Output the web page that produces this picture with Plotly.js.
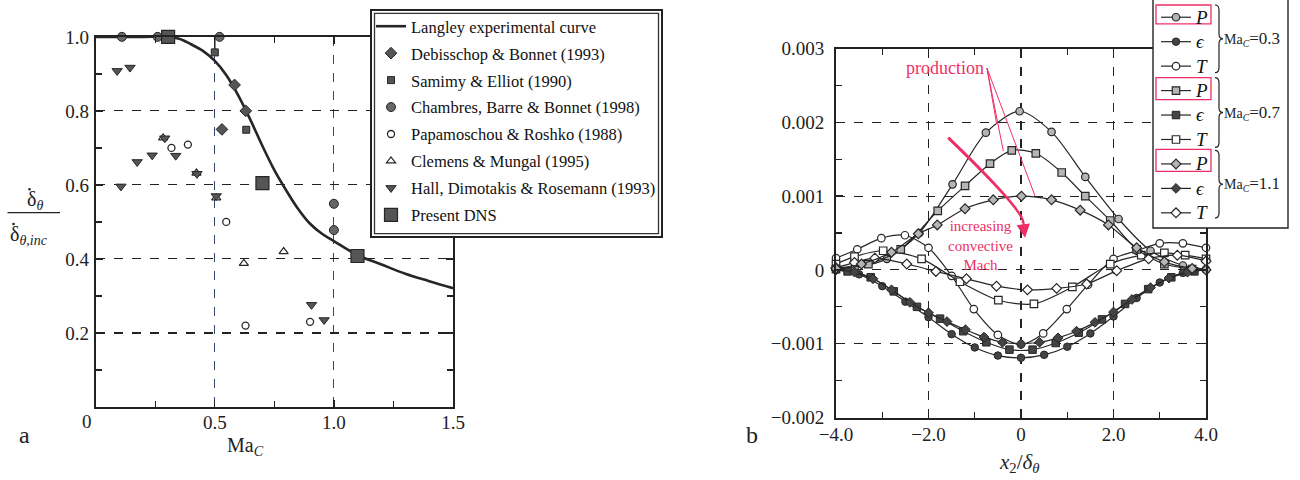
<!DOCTYPE html>
<html><head><meta charset="utf-8">
<script src="https://cdn.plot.ly/plotly-3.0.1.min.js"></script>
<style>body{margin:0;background:#fff}#g{width:1300px;height:480px}</style>
</head><body><div id="g"></div>
<script>
// ---------- Panel a data ----------
const langleyX = [0, 0.1, 0.2, 0.3, 0.35, 0.4, 0.45, 0.5, 0.55, 0.6, 0.65, 0.7, 0.75, 0.8, 0.85, 0.9, 0.95, 1.0, 1.1, 1.2, 1.3, 1.4, 1.5];
const langleyY = [1.0, 1.0, 1.0, 1.0, 0.995, 0.98, 0.962, 0.935, 0.895, 0.84, 0.775, 0.705, 0.64, 0.585, 0.535, 0.495, 0.468, 0.448, 0.41, 0.385, 0.36, 0.34, 0.321];
const debX = [0.583, 0.63, 0.53];
const debY = [0.87, 0.80, 0.75];
const samX = [0.5, 0.632];
const samY = [0.958, 0.749];
const chaX = [0.11, 0.26, 0.52, 1.0, 1.0];
const chaY = [1.0, 1.0, 1.0, 0.549, 0.478];
const papX = [0.318, 0.387, 0.548, 0.629, 0.90];
const papY = [0.70, 0.709, 0.50, 0.22, 0.23];
const cleX = [0.283, 0.423, 0.506, 0.622, 0.789];
const cleY = [0.727, 0.632, 0.565, 0.388, 0.42];
const hallX = [0.09, 0.144, 0.106, 0.174, 0.237, 0.29, 0.336, 0.425, 0.506, 0.906, 0.959];
const hallY = [0.908, 0.917, 0.596, 0.662, 0.68, 0.726, 0.679, 0.63, 0.57, 0.276, 0.235];
const dnsX = [0.304, 0.70, 1.099];
const dnsY = [1.0, 0.605, 0.408];
const aNames = ["Langley experimental curve", "Debisschop &amp; Bonnet (1993)", "Samimy &amp; Elliot (1990)",
  "Chambres, Barre &amp; Bonnet (1998)", "Papamoschou &amp; Roshko (1988)", "Clemens &amp; Mungal (1995)",
  "Hall, Dimotakis &amp; Rosemann (1993)", "Present DNS"];
const aXTicks = [0.5, 1.0, 1.5];
const aXTickText = ["0.5", "1.0", "1.5"];
const aYTicks = [0.2, 0.4, 0.6, 0.8, 1.0];
const aYTickText = ["0.2", "0.4", "0.6", "0.8", "1.0"];

// ---------- Panel b data ----------
const p03X = [-4, -3.6, -2.9, -2.2, -1.48, -0.76, -0.03, 0.66, 1.39, 2.11, 2.8, 3.5, 4];
const p03Y = [0.00001, 0.00003, 0.00015, 0.0005, 0.00116, 0.00186, 0.00215, 0.00187, 0.00126, 0.00069, 0.00026, 0.00006, 0.00001];
const e03X = [-4, -3.5, -3, -2.5, -2, -1.5, -1, -0.5, 0, 0.5, 1, 1.5, 2, 2.5, 3, 3.5, 4];
const e03Y = [0, -0.00006, -0.00022, -0.00043, -0.00064, -0.00087, -0.00105, -0.00116, -0.00119, -0.00115, -0.00104, -0.00086, -0.00063, -0.00038, -0.00017, -0.00004, 0];
const t03X = [-4, -3.54, -3.02, -2.51, -2.0, -1.5, -1.02, -0.5, 0, 0.48, 0.99, 1.45, 2.0, 2.5, 3.0, 3.5, 4.0];
const t03Y = [0.00016, 0.00028, 0.00043, 0.00047, 0.0003, -0.00008, -0.00053, -0.00088, -0.00101, -0.00086, -0.00053, -0.0002, 0.00015, 0.00026, 0.00036, 0.00036, 0.0003];
const p07X = [-4, -3.3, -2.6, -1.8, -1.21, -0.67, -0.2, 0.32, 0.88, 1.39, 1.93, 2.5, 3.1, 3.7];
const p07Y = [0.00001, 0.00008, 0.00028, 0.0008, 0.00114, 0.00144, 0.00162, 0.00158, 0.00132, 0.001, 0.00067, 0.00028, 0.00008, 0.00001];
const e07X = [-3.75, -3.25, -2.75, -2.25, -1.75, -1.25, -0.75, -0.25, 0.25, 0.75, 1.25, 1.75, 2.25, 2.75, 3.25, 3.75];
const e07Y = [-0.00002, -0.0001, -0.00029, -0.0005, -0.00066, -0.00083, -0.00098, -0.00108, -0.00108, -0.00099, -0.00085, -0.00067, -0.00046, -0.00026, -0.0001, -0.00002];
const t07X = [-4, -3.6, -2.98, -2.15, -1.32, -0.49, 0.28, 1.11, 1.93, 2.6, 3.1, 3.55, 4];
const t07Y = [0.00008, 0.00018, 0.00026, 0.00015, -0.00016, -0.00041, -0.00046, -0.00023, 0.00008, 0.0002, 0.00023, 0.0002, 0.00015];
const p11X = [-4, -3.45, -2.8, -2.22, -1.81, -1.21, -0.6, 0.01, 0.66, 1.28, 1.89, 2.5, 3.1, 3.7, 4];
const p11Y = [0.00002, 0.00008, 0.00024, 0.00049, 0.00061, 0.00083, 0.00095, 0.001, 0.00095, 0.00081, 0.00061, 0.0003, 0.00011, 0.00002, 0];
const e11X = [-4, -3.6, -3.2, -2.8, -2.4, -2, -1.6, -1.2, -0.8, -0.4, 0, 0.4, 0.8, 1.2, 1.6, 2, 2.4, 2.8, 3.2, 3.6, 4];
const e11Y = [0, -0.00003, -0.00012, -0.00027, -0.00044, -0.00058, -0.0007, -0.00081, -0.00091, -0.00098, -0.001, -0.00098, -0.00092, -0.00083, -0.00071, -0.00057, -0.0004, -0.00024, -0.00011, -0.00003, 0];
const t11X = [-4, -3.6, -3.16, -2.47, -1.84, -1.18, -0.53, 0.14, 0.77, 1.42, 2.07, 2.76, 3.38, 4];
const t11Y = [0.00003, 0.0001, 0.00016, 0.00008, -0.00002, -0.00012, -0.00022, -0.00027, -0.00025, -0.00019, -0.00001, 0.00015, 0.0002, 0.00012];
const bXTicks = [-4, -2, 0, 2, 4];
const bXTickText = ["\u22124.0", "\u22122.0", "0", "2.0", "4.0"];
const bYTicks = [-0.002, -0.001, 0, 0.001, 0.002, 0.003];
const bYTickText = ["\u22120.002", "\u22120.001", "0", "0.001", "0.002", "0.003"];
const machLabels = ["0.3", "0.7", "1.1"];
const quantityNames = ["P", "\u03f5", "T"];

// ---------- helpers ----------
const W = 1300, H = 480;
const px = x => x / W, py = y => 1 - y / H;
const SERIF = "Liberation Serif, DejaVu Serif, serif";
const INK = "#262626";
const RED = "#ee2f66";

const mk = (sym, size, fill, lw) => ({symbol: sym, size: size, color: fill, line: {color: INK, width: lw}});
const aCommon = (i) => ({xaxis: "x", yaxis: "y", legend: "legend", legendgroup: "a" + i, cliponaxis: false});

const traces = [
  Object.assign(aCommon(0), {x: langleyX, y: langleyY, mode: "lines", name: aNames[0], line: {color: INK, width: 2.6, shape: "spline"}}),
  Object.assign(aCommon(1), {x: debX, y: debY, mode: "markers", name: aNames[1], marker: mk("diamond", 9, "#555", 1)}),
  Object.assign(aCommon(2), {x: samX, y: samY, mode: "markers", name: aNames[2], marker: mk("square", 7, "#555", 1),
    error_y: {type: "data", symmetric: false, array: [0.042, 0], arrayminus: [0, 0], width: 0, thickness: 1.5, color: INK}}),
  Object.assign(aCommon(3), {x: chaX, y: chaY, mode: "markers", name: aNames[3], marker: mk("circle", 9, "#666", 1)}),
  Object.assign(aCommon(4), {x: papX, y: papY, mode: "markers", name: aNames[4], marker: mk("circle", 7, "#fff", 1.3)}),
  Object.assign(aCommon(5), {x: cleX, y: cleY, mode: "markers", name: aNames[5], marker: mk("triangle-up", 8, "#fff", 1.2)}),
  Object.assign(aCommon(6), {x: hallX, y: hallY, mode: "markers", name: aNames[6], marker: mk("triangle-down", 9, "#555", 1)}),
  Object.assign(aCommon(7), {x: dnsX, y: dnsY, mode: "markers", name: aNames[7], marker: mk("square", 13, "#555", 1.2)})
];

const bSets = [
  [p03X, p03Y, e03X, e03Y, t03X, t03Y, "circle"],
  [p07X, p07Y, e07X, e07Y, t07X, t07Y, "square"],
  [p11X, p11Y, e11X, e11Y, t11X, t11Y, "diamond"]
];
const qName = q => "<span style='font-size:19px'><i>" + q + "</i></span>";
bSets.forEach((s, i) => {
  const sym = s[6];
  const common = {mode: "lines+markers", xaxis: "x2", yaxis: "y2", legend: "legend2", line: {color: INK, width: 1.2, shape: "spline", smoothing: 0.8}, cliponaxis: false};
  traces.push(Object.assign({}, common, {x: s[2], y: s[3], name: qName(quantityNames[1]), legendrank: 100 + i * 10 + 2, marker: mk(sym, 7.5, "#444", 1)}));
  traces.push(Object.assign({}, common, {x: s[4], y: s[5], name: qName(quantityNames[2]), legendrank: 100 + i * 10 + 3, marker: mk(sym, 7.5, "#fff", 1.2)}));
  traces.push(Object.assign({}, common, {x: s[0], y: s[1], name: qName(quantityNames[0]), legendrank: 100 + i * 10 + 1, marker: mk(sym, 7.5, "#b5b5b5", 1.2)}));
});

// ---------- axes ----------
const tickFont = {family: SERIF, size: 19, color: "#222"};
const baseAxis = {showline: true, mirror: "ticks", linecolor: "#222", linewidth: 2, ticks: "inside", ticklen: 7, tickwidth: 1.3, tickcolor: "#222",
  tickfont: tickFont, zeroline: false, showgrid: true, griddash: "dash", gridwidth: 1.1};

const layout = {
  width: W, height: H, margin: {l: 0, r: 0, t: 0, b: 0}, paper_bgcolor: "#fff", plot_bgcolor: "#fff",
  font: {family: SERIF, color: "#222"},
  xaxis: Object.assign({}, baseAxis, {domain: [px(95.7), px(453)], range: [0, 1.5], anchor: "y", tickmode: "array", tickvals: aXTicks, ticktext: aXTickText,
    gridcolor: "#34466e", ticklabelstandoff: -3, minor: {tickmode: "linear", tick0: 0, dtick: 0.25, ticks: "inside", ticklen: 6, tickcolor: "#222", showgrid: false}}),
  yaxis: Object.assign({}, baseAxis, {domain: [py(406.7), py(35)], range: [0, 1.0], anchor: "x", tickmode: "array", tickvals: aYTicks, ticktext: aYTickText,
    gridcolor: "#222", ticklabelstandoff: 1, minor: {tickmode: "linear", tick0: 0, dtick: 0.1, ticks: "inside", ticklen: 6, tickcolor: "#222", showgrid: false}}),
  xaxis2: Object.assign({}, baseAxis, {domain: [px(836), px(1206)], range: [-4, 4], anchor: "y2", tickmode: "array", tickvals: bXTicks, ticktext: bXTickText,
    gridcolor: "#222", ticklabelstandoff: -1, minor: {tickmode: "linear", tick0: 0, dtick: 1, ticks: "inside", ticklen: 6, tickcolor: "#222", showgrid: false}}),
  yaxis2: Object.assign({}, baseAxis, {domain: [py(417.3), py(46.7)], range: [-0.002, 0.003], anchor: "x2", tickmode: "array", tickvals: bYTicks, ticktext: bYTickText,
    gridcolor: "#222", ticklabelstandoff: 6, minor: {tickmode: "linear", tick0: 0, dtick: 0.0005, ticks: "inside", ticklen: 6, tickcolor: "#222", showgrid: false}}),
  showlegend: true,
  legend: {x: px(371), y: py(7), xanchor: "left", yanchor: "top", bgcolor: "rgba(0,0,0,0)", borderwidth: 0,
    font: {family: SERIF, size: 16.5, color: "#111"}, tracegroupgap: 2.5, itemwidth: 30, traceorder: "grouped"},
  legend2: {x: px(1156), y: py(-2), xanchor: "left", yanchor: "top", bgcolor: "rgba(0,0,0,0)", borderwidth: 0,
    font: {family: SERIF, size: 16.5, color: "#111"}, tracegroupgap: 0, itemwidth: 30, traceorder: "normal"},
  shapes: [],
  annotations: []
};

const S = layout.shapes, A = layout.annotations;
const PT = (x, y) => px(x).toFixed(5) + "," + py(y).toFixed(5);
// legend frames (double line for panel a)
S.push({type: "rect", xref: "paper", yref: "paper", x0: px(371), x1: px(662), y0: py(236), y1: py(8), line: {color: "#222", width: 2}, fillcolor: "#fff", layer: "above"});
S.push({type: "rect", xref: "paper", yref: "paper", x0: px(374.5), x1: px(658.5), y0: py(232.5), y1: py(11.5), line: {color: "#333", width: 1.3}, layer: "above"});
S.push({type: "rect", xref: "paper", yref: "paper", x0: px(1153), x1: px(1288), y0: py(227), y1: py(-10), line: {color: "#222", width: 1.4}, fillcolor: "#fff", layer: "above"});
// red boxes around P entries
[[3, 22], [76, 98], [148, 170]].forEach(b => S.push({type: "rect", xref: "paper", yref: "paper", x0: px(1156), x1: px(1211), y0: py(b[1]), y1: py(b[0]), line: {color: RED, width: 1.3}, layer: "above"}));
// braces
function brace(xL, yT, yB, w) {
  const xm = xL + w / 2, ym = (yT + yB) / 2, h = 5;
  return "M" + PT(xL, yT) + " Q" + PT(xm, yT) + " " + PT(xm, yT + h) + " L" + PT(xm, ym - h) + " Q" + PT(xm, ym) + " " + PT(xL + w, ym) +
    " Q" + PT(xm, ym) + " " + PT(xm, ym + h) + " L" + PT(xm, yB - h) + " Q" + PT(xm, yB) + " " + PT(xL, yB);
}
[[3, 71], [76, 146], [149, 217]].forEach((b, i) => {
  S.push({type: "path", xref: "paper", yref: "paper", path: brace(1215, b[0], b[1], 8), line: {color: "#222", width: 1.2}, layer: "above"});
  A.push({xref: "paper", yref: "paper", x: px(1222), y: py((b[0] + b[1]) / 2), xanchor: "left", yanchor: "middle", showarrow: false,
    text: "<span style='font-size:14px'>Ma<sub><i>C</i></sub></span>=" + machLabels[i], font: {family: SERIF, size: 17, color: "#222"}});
});
// fraction line and accent dots of the y title
S.push({type: "line", xref: "paper", yref: "paper", x0: px(7.5), x1: px(60), y0: py(211.5), y1: py(211.5), line: {color: "#222", width: 1.3}});
[[29.5, 188], [13.5, 223]].forEach(d => S.push({type: "circle", xref: "paper", yref: "paper", x0: px(d[0] - 1.3), x1: px(d[0] + 1.3), y0: py(d[1] + 1.3), y1: py(d[1] - 1.3), fillcolor: "#222", line: {width: 0}}));
// production lines
const prodStart = [-0.736, 0.002734];
[[-0.526, 0.001977], [-0.383, 0.001612], [0.303, 0.001004]].forEach(e => S.push({type: "line", xref: "x2", yref: "y2", x0: prodStart[0], y0: prodStart[1], x1: e[0], y1: e[1], line: {color: RED, width: 1}}));
// curved arrow
S.push({type: "path", xref: "x2", yref: "y2", path: "M -1.574,0.001792 Q 0.146,0.000753 0.043,0.000626", line: {color: RED, width: 3}});
A.push({xref: "x2", yref: "y2", x: 0.087, y: 0.000436, ax: -2, ay: -15, axref: "pixel", ayref: "pixel", showarrow: true, arrowhead: 2, arrowsize: 0.9, arrowwidth: 3, arrowcolor: RED, text: "", standoff: 0});

// texts
const T = (x, y, text, size, color, xa) => A.push({xref: "paper", yref: "paper", x: px(x), y: py(y), xanchor: xa || "center", yanchor: "middle",
  showarrow: false, text: text, font: {family: SERIF, size: size, color: color || "#222"}});
T(24, 435, "a", 24);
T(752, 435, "b", 24);
T(87, 421, "0", 19);
T(245, 446, "Ma<sub><i>C</i></sub>", 20);
T(24.5, 199, "\u03b4<sub><i>\u03b8</i></sub>", 20, "#222", "left");
T(7.5, 234, "\u03b4<sub><i>\u03b8,inc</i></sub>", 20, "#222", "left");
T(1019, 463, "<i>x</i><sub>2</sub>/<i>\u03b4</i><sub><i>\u03b8</i></sub>", 21);
T(945, 66, "production", 18, RED);
T(980, 245, "increasing<br>convective<br>Mach", 15, RED);

Plotly.newPlot("g", traces, layout, {displayModeBar: false, staticPlot: true});
</script></body></html>
